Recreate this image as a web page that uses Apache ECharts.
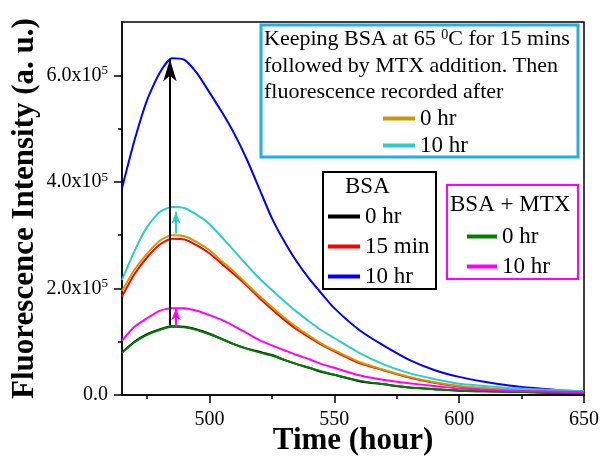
<!DOCTYPE html>
<html>
<head>
<meta charset="utf-8">
<script src="https://cdn.jsdelivr.net/npm/echarts@6.0.0/dist/echarts.min.js"></script>
<style>
  html, body { margin: 0; padding: 0; background: #fff; }
  #main { width: 600px; height: 457px; }
</style>
</head>
<body>
<div id="main"></div>
<script>
// wavelength / time axis (x)
const xs = [465, 470, 475, 480, 485, 490, 495, 500, 505, 510, 515, 520, 525, 530, 535, 540, 545, 550,
  560, 570, 580, 590, 600, 610, 620, 630, 640, 650]
// intensities in units of 1e5
const bsa0 = [0.80, 1.00, 1.14, 1.23, 1.29, 1.28, 1.23, 1.15, 1.05, 0.95, 0.87, 0.81, 0.75, 0.66, 0.58, 0.51, 0.43, 0.38,
  0.26, 0.20, 0.14, 0.11, 0.08, 0.07, 0.06, 0.05, 0.04, 0.04]
const bsa15 = [1.85, 2.27, 2.58, 2.82, 2.93, 2.92, 2.81, 2.66, 2.46, 2.26, 2.05, 1.82, 1.61, 1.41, 1.23, 1.08, 0.94, 0.82,
  0.60, 0.46, 0.33, 0.23, 0.16, 0.12, 0.09, 0.07, 0.06, 0.05]
const bsa10 = [3.88, 4.78, 5.53, 6.04, 6.32, 6.29, 6.04, 5.68, 5.31, 4.90, 4.42, 3.87, 3.32, 2.88, 2.50, 2.18, 1.90, 1.63,
  1.22, 0.92, 0.66, 0.47, 0.34, 0.25, 0.18, 0.13, 0.09, 0.07]
const mtx0 = [0.79, 0.99, 1.13, 1.22, 1.28, 1.27, 1.22, 1.14, 1.05, 0.95, 0.87, 0.80, 0.74, 0.66, 0.58, 0.51, 0.44, 0.38,
  0.27, 0.20, 0.14, 0.11, 0.08, 0.07, 0.06, 0.05, 0.04, 0.04]
const mtx10 = [1.02, 1.28, 1.44, 1.58, 1.63, 1.63, 1.58, 1.50, 1.41, 1.29, 1.16, 1.03, 0.93, 0.84, 0.75, 0.67, 0.58, 0.51,
  0.37, 0.28, 0.22, 0.17, 0.12, 0.10, 0.08, 0.07, 0.06, 0.05]
const heat0 = [1.95, 2.35, 2.65, 2.89, 3.00, 2.98, 2.87, 2.72, 2.51, 2.31, 2.08, 1.86, 1.65, 1.45, 1.27, 1.11, 0.96, 0.84,
  0.62, 0.47, 0.34, 0.24, 0.17, 0.13, 0.10, 0.08, 0.07, 0.06]
const heat10 = [2.16, 2.70, 3.15, 3.43, 3.53, 3.51, 3.38, 3.21, 2.96, 2.70, 2.44, 2.19, 1.97, 1.76, 1.56, 1.38, 1.21, 1.07,
  0.79, 0.57, 0.41, 0.30, 0.21, 0.17, 0.13, 0.11, 0.09, 0.07]

// arrows: [x, from, to]
const arrowBlack = [484.2, 1.31, 6.30]
const arrowCyan = [486.6, 3.03, 3.44]
const arrowMagenta = [486.6, 1.28, 1.63]

const xMajor = [500, 550, 600, 650]
const xMinor = [475, 525, 575, 625]
const yMajor = [0, 2, 4, 6]
const yMinor = [1, 3, 5]

const serif = 'Liberation Serif, Times New Roman, serif'

function pairs(arr) {
  return xs.map((x, i) => [x, arr[i]])
}

function curve(name, color, arr, arrow, head) {
  const s = {
    name: name,
    type: 'line',
    data: pairs(arr),
    symbol: 'none',
    smooth: 0.2,
    lineStyle: { color: color, width: 2 },
    itemStyle: { color: color }
  }
  if (arrow) {
    s.markLine = {
      silent: true,
      symbol: ['none', 'arrow'],
      symbolSize: head,
      label: { show: false },
      lineStyle: { color: color, width: 2, type: 'solid' },
      data: [[{ coord: [arrow[0], arrow[1]] }, { coord: [arrow[0], arrow[2]] }]]
    }
  }
  return s
}

const chart = echarts.init(document.getElementById('main'))

const legendBase = {
  orient: 'vertical',
  padding: 0,
  icon: 'rect',
  itemWidth: 32,
  itemHeight: 4,
  selectedMode: false,
  textStyle: { fontFamily: serif, fontSize: 23, color: '#000' },
  formatter: function (name) { return name.split('|')[1] }
}

const option = {
  animation: false,
  grid: {
    left: 122, right: 16, top: 22, bottom: 62,
    containLabel: false,
    outerBoundsMode: 'none',
    show: true, borderColor: '#000', borderWidth: 1.5
  },
  xAxis: [{
    type: 'value',
    min: 465,
    max: 650,
    name: 'Time (hour)',
    nameLocation: 'middle',
    nameGap: 30,
    nameMoveOverlap: false,
    nameTextStyle: { fontFamily: serif, fontSize: 31, fontWeight: 'bold', color: '#000' },
    axisLine: { lineStyle: { color: '#000', width: 1.5 } },
    axisTick: { customValues: xMajor, length: 8, lineStyle: { color: '#000', width: 1.5 } },
    axisLabel: { customValues: xMajor, fontFamily: serif, fontSize: 20, color: '#000', margin: 15 },
    splitLine: { show: false }
  }, {
    type: 'value',
    min: 465,
    max: 650,
    position: 'bottom',
    axisLine: { show: false },
    axisTick: { customValues: xMinor, length: 4, lineStyle: { color: '#000', width: 1.5 } },
    axisLabel: { show: false },
    splitLine: { show: false }
  }],
  yAxis: [{
    type: 'value',
    min: 0,
    max: 7,
    name: 'Fluorescence Intensity (a. u.)',
    nameLocation: 'middle',
    nameGap: 82,
    nameMoveOverlap: false,
    nameTextStyle: { fontFamily: serif, fontSize: 31, fontWeight: 'bold', color: '#000' },
    axisLine: { show: true, lineStyle: { color: '#000', width: 1.5 } },
    axisTick: { show: true, customValues: yMajor, length: 8, lineStyle: { color: '#000', width: 1.5 } },
    axisLabel: {
      customValues: yMajor,
      margin: 14,
      formatter: function (v) {
        if (v === 0) return '{a|0.0}'
        return '{a|' + v.toFixed(1) + 'x10}{s|5}'
      },
      rich: {
        a: { fontFamily: serif, fontSize: 20, color: '#000', lineHeight: 22 },
        s: { fontFamily: serif, fontSize: 13, color: '#000', verticalAlign: 'top', lineHeight: 22 }
      }
    },
    splitLine: { show: false }
  }, {
    type: 'value',
    min: 0,
    max: 7,
    position: 'left',
    axisLine: { show: false },
    axisTick: { show: true, customValues: yMinor, length: 4, lineStyle: { color: '#000', width: 1.5 } },
    axisLabel: { show: false },
    splitLine: { show: false }
  }],
  legend: [
    Object.assign({}, legendBase, { left: 383, top: 107, itemGap: 4, data: ['h|0 hr', 'h|10 hr'] }),
    Object.assign({}, legendBase, { left: 328, top: 205, itemGap: 7, data: ['b|0 hr', 'b|15 min', 'b|10 hr'] }),
    Object.assign({}, legendBase, { left: 467, top: 225, itemGap: 7, itemWidth: 30, data: ['m|0 hr', 'm|10 hr'] })
  ],
  graphic: [
    { type: 'rect', shape: { x: 261, y: 25, width: 317, height: 132 }, style: { fill: 'none', stroke: '#22aee8', lineWidth: 3 } },
    { type: 'rect', shape: { x: 323, y: 172, width: 113, height: 117 }, style: { fill: 'none', stroke: '#000', lineWidth: 2 } },
    { type: 'rect', shape: { x: 447, y: 185, width: 131, height: 94 }, style: { fill: 'none', stroke: '#ff00ff', lineWidth: 2 } },
    {
      type: 'text', left: 264, top: 28,
      style: {
        text: 'Keeping BSA at 65 {s|0}C for 15 mins',
        font: '22px ' + serif, fill: '#000',
        rich: { s: { font: '14px ' + serif, fill: '#000', verticalAlign: 'top' } }
      }
    },
    { type: 'text', left: 264, top: 55, style: { text: 'followed by MTX addition. Then', font: '22px ' + serif, fill: '#000' } },
    { type: 'text', left: 264, top: 81, style: { text: 'fluorescence recorded after', font: '22px ' + serif, fill: '#000' } },
    { type: 'text', left: 345, top: 175, style: { text: 'BSA', font: '23px ' + serif, fill: '#000' } },
    { type: 'text', left: 450, top: 193, style: { text: 'BSA + MTX', font: '23px ' + serif, fill: '#000' } }
  ],
  series: [
    curve('b|0 hr', '#000000', bsa0, arrowBlack, [10, 22]),
    curve('b|15 min', '#ff0000', bsa15),
    curve('b|10 hr', '#0000ff', bsa10),
    curve('h|0 hr', '#cc9900', heat0),
    curve('h|10 hr', '#2ccccc', heat10, arrowCyan, [7, 12]),
    curve('m|0 hr', '#008000', mtx0),
    curve('m|10 hr', '#ff00ff', mtx10, arrowMagenta, [7, 12])
  ]
}

chart.setOption(option)
</script>
</body>
</html>
